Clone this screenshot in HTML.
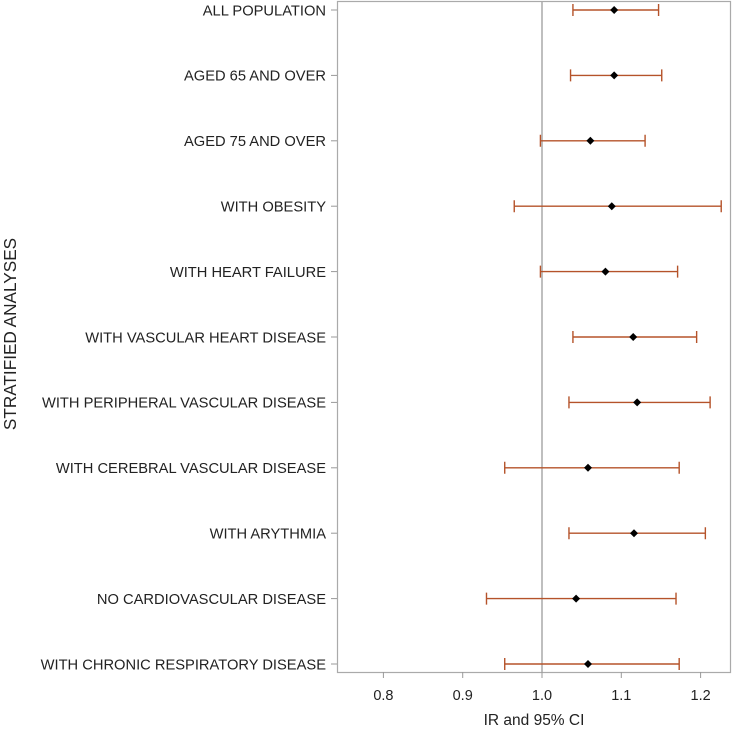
<!DOCTYPE html>
<html><head><meta charset="utf-8"><style>
body{margin:0;background:#fff;}
svg text{font-family:"Liberation Sans",Arial,sans-serif;}
</style></head><body>
<svg id="chart" width="732" height="734">
<rect x="337.5" y="1.5" width="393" height="671" fill="none" stroke="#aaa" stroke-width="1.2"/>
<g id="g"></g>
<text x="534" y="725" font-size="15.5" text-anchor="middle" fill="#222">IR and 95% CI</text>
<text transform="translate(16,334) rotate(-90)" font-size="17.2" text-anchor="middle" fill="#222">STRATIFIED ANALYSES</text>
</svg>
<script>
const categories=["ALL POPULATION","AGED 65 AND OVER","AGED 75 AND OVER","WITH OBESITY","WITH HEART FAILURE","WITH VASCULAR HEART DISEASE","WITH PERIPHERAL VASCULAR DISEASE","WITH CEREBRAL VASCULAR DISEASE","WITH ARYTHMIA","NO CARDIOVASCULAR DISEASE","WITH CHRONIC RESPIRATORY DISEASE"];
const estimates=[1.091,1.091,1.061,1.088,1.080,1.115,1.120,1.058,1.116,1.043,1.058];
const lower=[1.039,1.036,0.998,0.965,0.998,1.039,1.034,0.953,1.034,0.930,0.953];
const upper=[1.147,1.151,1.130,1.226,1.171,1.195,1.212,1.173,1.206,1.169,1.173];
const xTicks=[0.8,0.9,1.0,1.1,1.2];
const refValue=1.0;
const NS="http://www.w3.org/2000/svg";
const g=document.getElementById('g');
function X(v){return 542+(v-1)*793;}
function Y(i){return 10+i*65.4;}
function mk(t,a,p){const e=document.createElementNS(NS,t);for(const k in a)e.setAttribute(k,a[k]);(p||g).appendChild(e);return e;}
const ref=mk('line',{x1:X(refValue),x2:X(refValue),y1:2,y2:672,stroke:'#aaa','stroke-width':1.5});


xTicks.forEach(t=>{
  const l=mk('line',{x1:X(t),x2:X(t),y1:672,y2:678,stroke:'#999'});
  
  
  const tx=mk('text',{x:X(t),y:700,'font-size':14.5,'text-anchor':'middle',fill:'#222'});
  tx.textContent=t.toFixed(1);
  
  
});
categories.forEach((c,i)=>{
  const y=Y(i);
  const tk=mk('line',{x1:331,x2:337,y1:y,y2:y,stroke:'#999'});
  
  
  const tx=mk('text',{x:326,y:y+5.3,'font-size':14.7,'text-anchor':'end',fill:'#222'});
  tx.textContent=c;
  
  
  const ci=mk('path',{d:`M${X(lower[i])},${y}H${X(upper[i])}M${X(lower[i])},${y-6}V${y+6}M${X(upper[i])},${y-6}V${y+6}`,stroke:'#b5532a','stroke-width':1.4,fill:'none'});
  
  
  const px=X(estimates[i]);
  const pt=mk('path',{d:`M${px},${y-4}L${px+4},${y}L${px},${y+4}L${px-4},${y}Z`,fill:'#000'});
  
  
});
</script>
</body></html>
